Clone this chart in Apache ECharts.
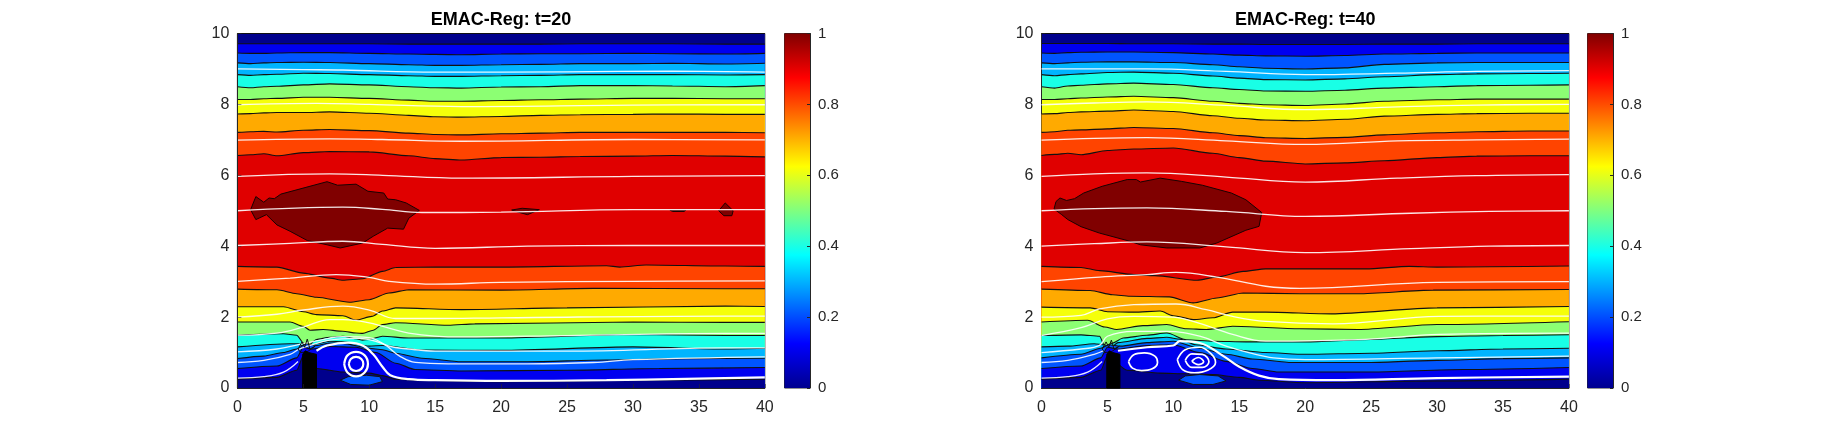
<!DOCTYPE html>
<html><head><meta charset="utf-8">
<style>html,body{margin:0;padding:0;background:#fff}#c{width:1825px;height:436px}</style>
<script src="https://cdn.jsdelivr.net/npm/echarts@6/dist/echarts.min.js"></script>
</head><body><div id="c"></div>
<script>
// Band colours, low value to high value
const bandColors=['#00008c','#0000f0','#0055ff','#00b4ff','#19ffe6','#8cff73','#f5ff0a','#ffaa00','#ff4400','#e00000','#800000'];
const titles=['EMAC-Reg: t=20','EMAC-Reg: t=40'];
const xTop=[0,1,2,3,5,7,10,13,15,17,20,23,26,30,33,37,40];

// t=20 upper contours (levels .1 ... .9)
const a20T1=[9.71,9.71,9.71,9.71,9.71,9.71,9.71,9.70,9.70,9.70,9.70,9.70,9.71,9.71,9.71,9.70,9.70];
const a20T2=[9.45,9.44,9.44,9.45,9.46,9.46,9.44,9.42,9.41,9.40,9.42,9.43,9.43,9.44,9.43,9.42,9.44];
const a20T3=[9.17,9.15,9.17,9.18,9.19,9.18,9.15,9.12,9.10,9.10,9.12,9.13,9.15,9.15,9.16,9.14,9.16];
const a20T4=[8.84,8.82,8.84,8.85,8.88,8.87,8.84,8.81,8.79,8.79,8.81,8.82,8.84,8.84,8.84,8.83,8.84];
const a20T5=[8.50,8.47,8.50,8.51,8.55,8.58,8.55,8.50,8.47,8.46,8.49,8.50,8.53,8.53,8.52,8.50,8.53];
const a20T6=[8.14,8.14,8.16,8.17,8.20,8.20,8.17,8.12,8.09,8.09,8.11,8.13,8.15,8.17,8.17,8.16,8.16];
const a20T7=[7.73,7.74,7.76,7.77,7.77,7.79,7.75,7.69,7.65,7.64,7.66,7.69,7.71,7.72,7.73,7.72,7.72];
const a20T8=[7.21,7.23,7.24,7.22,7.27,7.29,7.26,7.19,7.15,7.14,7.17,7.19,7.21,7.21,7.21,7.21,7.20];
const a20T9=[6.56,6.58,6.61,6.55,6.64,6.67,6.66,6.55,6.47,6.43,6.50,6.51,6.53,6.54,6.56,6.54,6.52];
// t=20 lower contours (levels .9 ... .1)
const a20B9=[[0,3.43],[3,3.41],[5,3.24],[7,3.10],[8,3.04],[9.5,3.08],[11,3.29],[12,3.40],[15,3.41],[20,3.41],[28,3.45],[29,3.41],[31,3.47],[37,3.44],[40,3.43]];
const a20B8=[[0,2.79],[3,2.77],[4.5,2.66],[6,2.56],[8.5,2.42],[10,2.49],[11.5,2.68],[13,2.77],[20,2.76],[27,2.81],[37,2.80],[40,2.80]];
const a20B7=[[0,2.29],[3.5,2.29],[5,2.15],[6,2.07],[8,2.04],[9,1.91],[10.2,2.02],[11,2.17],[12,2.26],[17,2.21],[25,2.26],[37,2.31],[40,2.30]];
const a20B6=[[0,1.86],[4,1.86],[5,1.74],[5.5,1.63],[6.5,1.65],[8,1.60],[9,1.55],[9.5,1.54],[10.3,1.63],[11,1.79],[12,1.84],[16,1.77],[18,1.81],[30,1.86],[37,1.85],[40,1.85]];
const a20B5=[[0,1.49],[3.5,1.53],[4.5,1.49],[5,1.27],[5.3,1.18],[6,1.37],[7,1.43],[8,1.46],[9,1.39],[9.5,1.35],[10,1.37],[11,1.46],[13,1.41],[20,1.41],[30,1.51],[37,1.48],[40,1.48]];
const a20B4=[[0,1.16],[4,1.25],[4.7,1.25],[5,1.16],[5.3,1.08],[6,1.25],[7,1.32],[8,1.30],[10,1.18],[11,1.20],[14,1.07],[20,1.06],[30,1.16],[37,1.10],[40,1.12]];
const a20B3=[[0,.83],[2,.9],[3.5,1.0],[4.5,1.1],[5.2,1.25],[6,1.2],[7,1.27],[8,1.26],[10,1.12],[11,1.08],[12,.98],[14,.84],[17,.74],[22,.74],[28,.79],[34,.83],[40,.84]];
const a20B2=[[0,.55],[3,.62],[4.5,.85],[5,1.15],[5.6,1.1],[7,1.17],[9,1.15],[10.5,1.0],[12,.7],[13.5,.52],[17,.48],[25,.5],[32,.55],[40,.58]];
const a20B1=[[0,.25],[3,.3],[4.5,.5],[5,.9],[6,.55],[8,.45],[10,.42],[11,.35],[12,.25],[14,.22],[20,.18],[30,.22],[40,.25]];
// t=20 closed contours
const a20Blob=[[1,5.03],[1.4,5.4],[2,5.24],[2.4,5.36],[2.8,5.34],[3.3,5.47],[5.2,5.66],[6.8,5.82],[7.6,5.72],[9,5.75],[9.9,5.55],[11.1,5.5],[11.4,5.33],[12,5.31],[12.8,5.22],[13.8,5.01],[13,4.79],[12.6,4.48],[11.4,4.51],[10.3,4.28],[9.5,4.09],[7.8,3.95],[6.8,4.04],[5.3,4.16],[4,4.42],[3,4.6],[2.2,4.89],[1.4,4.75]];
const a20Blob2=[[20.8,5.02],[21.6,5.07],[22.9,5.03],[22,4.89],[21.3,4.96]];
const a20Blob3=[[32.8,5.02],[34,5.02],[33.9,4.98],[33,4.98]];
const a20Blob4=[[36.5,5.0],[37,5.22],[37.6,5.0],[37.5,4.86],[36.9,4.86]];
const a20Patch=[[7.8,.22],[8.6,.1],[10,.08],[11,.18],[10.8,.32],[9.8,.36],[8.4,.32]];
const a20Core=[[8.4,.68],[8.7,.88],[9.2,.92],[9.6,.72],[9.4,.48],[8.8,.46]];
const a20Solid=[[4.95,0],[4.95,.95],[5.15,1.05],[5.4,1.0],[6,.95],[6,0]];
const a20Tip=[[4.6,1.1],[4.9,1.3],[5.1,1.15],[5.3,1.38],[5.5,1.1],[5.9,1.18],[5.3,1.02],[4.8,1.0],[4.6,1.1]];
// t=20 streamlines
const a20S9=[[0,9.0],[5,8.98],[8,8.97],[15,8.91],[25,8.92],[33,8.94],[40,8.91]];
const a20S8=[[0,7.99],[6,8.03],[10,8.0],[17,7.94],[30,7.98],[40,7.99]];
const a20S7=[[0,6.99],[7,7.03],[11,7.01],[17,6.96],[30,7.01],[40,7.0]];
const a20S6=[[0,5.97],[7,6.04],[11,6.0],[17,5.92],[30,5.97],[40,5.99]];
const a20S5=[[0,5.0],[8,5.10],[11,5.04],[14,4.95],[20,4.96],[30,5.03],[40,5.03]];
const a20S4=[[0,4.02],[4,4.08],[8,4.14],[11,4.05],[15,3.94],[22,4.0],[30,4.02],[40,4.02]];
const a20S3=[[0,3.01],[4,3.1],[7.5,3.2],[10,3.12],[11.5,3.01],[15,2.93],[20,2.98],[30,3.01],[40,3.02]];
const a20S2=[[0,2.0],[3,2.08],[5,2.2],[8,2.31],[10,2.2],[12,1.96],[15,1.96],[20,1.98],[37,2.03],[40,2.03]];
const a20S15=[[0,1.49],[3,1.55],[5,1.72],[7,1.93],[8,1.93],[10,1.84],[13,1.55],[17,1.44],[25,1.48],[37,1.54],[40,1.54]];
const a20S1=[[0,1.02],[3,1.10],[5,1.25],[7,1.41],[8,1.45],[10,1.42],[11.5,1.18],[13,1.10],[15,1.04],[25,1.04],[37,1.13],[40,1.13]];
const a20S05=[[0,.72],[2,.78],[4,.95],[4.7,1.1],[5.5,1.2],[7,1.35],[9,1.4],[11,1.25],[12.3,.9],[13.5,.72],[16,.68],[22,.68],[27,.72],[30,.8],[40,.88]];
const a20S0=[[0,.28],[2,.32],[3.5,.45],[4.6,.75]];
const a20Thick=[[6,1.05],[6.8,1.2],[8.4,1.28],[9.5,1.2],[10.3,.95],[11,.6],[11.6,.36],[13,.25],[15,.22],[20,.2],[28,.22],[34,.26],[40,.3]];
const a20Ring1=[[8.1,.68],[8.35,.92],[9,1.02],[9.65,.92],[9.9,.68],[9.65,.44],[9,.33],[8.35,.44],[8.1,.68]];
const a20Ring2=[[8.45,.68],[8.6,.82],[9,.88],[9.4,.82],[9.55,.68],[9.4,.54],[9,.48],[8.6,.54],[8.45,.68]];

// t=40 upper contours
const a40T1=[9.72,9.72,9.72,9.72,9.72,9.71,9.71,9.70,9.70,9.69,9.69,9.69,9.70,9.70,9.71,9.71,9.71];
const a40T2=[9.45,9.44,9.46,9.47,9.48,9.48,9.46,9.42,9.39,9.37,9.36,9.38,9.42,9.44,9.45,9.45,9.45];
const a40T3=[9.17,9.15,9.17,9.19,9.20,9.20,9.18,9.12,9.06,9.02,9.0,9.03,9.13,9.17,9.18,9.18,9.18];
const a40T4=[8.84,8.81,8.84,8.86,8.90,8.91,8.88,8.80,8.74,8.70,8.69,8.72,8.78,8.84,8.86,8.87,8.88];
const a40T5=[8.50,8.46,8.52,8.54,8.58,8.60,8.56,8.47,8.42,8.38,8.37,8.40,8.46,8.50,8.53,8.54,8.55];
const a40T6=[8.14,8.14,8.16,8.18,8.21,8.23,8.19,8.09,8.03,7.99,7.97,8.01,8.09,8.13,8.15,8.15,8.15];
const a40T7=[7.73,7.74,7.77,7.79,7.81,7.84,7.80,7.68,7.61,7.56,7.54,7.58,7.67,7.72,7.74,7.75,7.75];
const a40T8=[7.21,7.23,7.27,7.28,7.31,7.35,7.32,7.20,7.12,7.06,7.04,7.07,7.14,7.20,7.23,7.25,7.25];
const a40T9=[6.56,6.59,6.62,6.58,6.70,6.74,6.77,6.62,6.50,6.40,6.32,6.35,6.41,6.50,6.54,6.55,6.55];
// t=40 lower contours
const a40B9=[[0,3.43],[3,3.40],[4.4,3.31],[7,3.20],[8.6,3.17],[11.8,3.04],[13.3,3.13],[15.3,3.29],[17,3.36],[24.6,3.36],[27.9,3.43],[30,3.41],[34,3.42],[40,3.44]];
const a40B8=[[0,2.79],[3.7,2.75],[5.4,2.63],[6.7,2.59],[9.7,2.57],[11.5,2.40],[13.3,2.54],[15.3,2.68],[19.6,2.66],[24,2.66],[29.7,2.76],[40,2.78]];
const a40B7=[[0,2.28],[3.7,2.26],[5,2.15],[7,2.14],[9,2.17],[10,2.04],[11.5,1.93],[13,1.98],[14.5,2.14],[17,2.14],[22,2.09],[30,2.26],[40,2.30]];
const a40B6=[[0,1.86],[3.5,1.91],[4.8,1.72],[5.7,1.65],[7.7,1.76],[9.5,1.79],[11,1.67],[12.5,1.65],[14.5,1.74],[19.6,1.67],[24,1.65],[30,1.79],[40,1.87]];
const a40B5=[[0,1.48],[3,1.5],[4.4,1.46],[4.8,1.18],[5.4,1.27],[6.2,1.41],[8,1.49],[9.5,1.55],[11,1.36],[13,1.32],[15.5,1.30],[20,1.3],[25,1.37],[30,1.45],[35,1.48],[40,1.5]];
const a40B4=[[0,1.16],[2,1.18],[4,1.25],[4.8,1.22],[5.2,1.12],[5.8,1.28],[8,1.4],[9.5,1.43],[10.5,1.38],[11.7,1.22],[14,1.1],[17,1.0],[20,.95],[25,.98],[30,1.05],[35,1.1],[40,1.12]];
const a40B3=[[0,.85],[3,.95],[4.5,1.12],[5.1,1.22],[6,1.18],[8,1.28],[10,1.32],[12,1.12],[14,.95],[16,.82],[19,.72],[25,.72],[30,.78],[35,.83],[40,.85]];
const a40B2=[[0,.55],[3,.62],[4.5,.85],[5,1.15],[5.8,1.1],[8,1.2],[10,1.22],[12,1.0],[14,.75],[16,.55],[18,.45],[25,.45],[32,.52],[40,.58]];
const a40B1=[[0,.25],[3,.3],[4.5,.5],[5,.9],[6.5,.5],[9,.42],[11,.4],[13,.38],[15,.3],[16.5,.22],[20,.15],[30,.2],[40,.25]];
// t=40 closed contours
const a40Blob=[[.95,5.05],[1.1,5.26],[1.4,5.36],[1.9,5.29],[2.5,5.34],[3.2,5.5],[4.6,5.69],[6.5,5.88],[7.2,5.88],[7.5,5.81],[9,5.92],[10.6,5.83],[12.2,5.72],[14.4,5.5],[15.5,5.31],[16.7,4.95],[16.5,4.56],[15.5,4.45],[13.3,4.09],[12,3.95],[9.5,3.95],[7.5,4.04],[6.7,4.14],[4.4,4.37],[3,4.55],[2,4.75],[1.5,4.9]];
const a40Patch=[[10.4,.22],[11.5,.1],[13,.1],[14,.2],[13.4,.34],[12,.38],[10.9,.34]];
const a40Core=[[11.2,.72],[11.8,.98],[12.8,.86],[13,.62],[12.2,.5],[11.4,.54]];
const a40Solid=[[4.95,0],[4.95,.95],[5.15,1.05],[5.4,1.0],[5.95,.95],[5.95,0]];
const a40Tip=[[4.6,1.1],[4.9,1.3],[5.1,1.15],[5.3,1.35],[5.5,1.1],[5.9,1.18],[5.3,1.02],[4.8,1.0],[4.6,1.1]];
// t=40 streamlines
const a40S9=[[0,9.0],[4,9.0],[8,9.0],[14,8.93],[20,8.84],[27,8.88],[33,8.93],[40,8.95]];
const a40S8=[[0,7.99],[4,8.04],[8,8.07],[14,7.97],[20,7.85],[27,7.93],[33,7.98],[40,8.0]];
const a40S7=[[0,6.99],[4,7.04],[8,7.06],[14,6.97],[20,6.87],[27,6.97],[33,7.0],[40,7.02]];
const a40S6=[[0,5.97],[4,6.04],[8,6.07],[14,5.95],[20,5.81],[27,5.92],[33,5.99],[40,6.02]];
const a40S5=[[0,5.0],[4,5.06],[8,5.08],[14,4.98],[20,4.84],[28,4.93],[34,4.98],[40,5.0]];
const a40S4=[[0,4.0],[4,4.07],[8,4.12],[14,3.98],[20,3.82],[28,3.93],[34,4.0],[40,4.02]];
const a40S3=[[0,3.0],[4.4,3.13],[8,3.2],[10.2,3.26],[13.3,3.13],[17,2.87],[19.6,2.81],[30,2.98],[40,3.0]];
const a40S2=[[0,2.0],[3,2.05],[4.4,2.23],[7,2.35],[10.2,2.37],[12.5,2.21],[14.5,2.02],[17,1.88],[22.1,1.81],[30.2,2.02],[40,2.03]];
const a40S15=[[0,1.48],[3,1.7],[5,1.95],[7,2.02],[10,2.0],[12,1.82],[14.5,1.51],[17,1.32],[24.6,1.37],[30.2,1.51],[40,1.55]];
const a40S1=[[0,1.0],[3,1.1],[4.4,1.2],[5,1.46],[7,1.6],[9.5,1.6],[12,1.46],[14,1.18],[15.8,.99],[17.6,.85],[20,.8],[30,.85],[40,.9]];
const a40S05=[[0,.72],[2,.78],[4,.95],[4.7,1.05]];
const a40S0=[[0,.28],[2,.32],[3.5,.45],[4.6,.75]];
const a40Thick=[[5.8,1.05],[8,1.15],[10,1.2],[10.5,1.32],[12,1.27],[13.8,.9],[15,.6],[16.5,.35],[18,.25],[22,.22],[30,.28],[40,.32]];
const a40Ring1=[[6.6,.74],[7,.94],[7.8,.99],[8.6,.9],[8.8,.72],[8.4,.54],[7.6,.49],[6.9,.56],[6.6,.74]];
const a40Ring2=[[10.3,.8],[10.9,1.08],[12,1.15],[12.9,.95],[13.2,.72],[12.6,.5],[11.6,.43],[10.7,.52],[10.3,.8]];
const a40Ring3=[[10.9,.78],[11.4,.96],[12.2,.95],[12.7,.74],[12.2,.58],[11.4,.58],[10.9,.78]];
const a40Ring4=[[11.4,.76],[11.9,.86],[12.3,.74],[11.9,.66],[11.4,.76]];

const jetStops=[[0,'#00008f'],[.125,'#0000ff'],[.375,'#00ffff'],[.625,'#ffff00'],[.875,'#ff0000'],[1,'#800000']];
const barValue=[1];

const panels=[
 {top:[a20T1,a20T2,a20T3,a20T4,a20T5,a20T6,a20T7,a20T8,a20T9],
  bot:[a20B9,a20B8,a20B7,a20B6,a20B5,a20B4,a20B3,a20B2,a20B1],
  blobs:[a20Blob,a20Blob2,a20Blob3,a20Blob4],patch:a20Patch,core:a20Core,solid:a20Solid,tip:a20Tip,
  thin:[a20S9,a20S8,a20S7,a20S6,a20S5,a20S4,a20S3,a20S2,a20S15,a20S1,a20S05,a20S0],
  rings:[],thick:[a20Thick,a20Ring1,a20Ring2]},
 {top:[a40T1,a40T2,a40T3,a40T4,a40T5,a40T6,a40T7,a40T8,a40T9],
  bot:[a40B9,a40B8,a40B7,a40B6,a40B5,a40B4,a40B3,a40B2,a40B1],
  blobs:[a40Blob],patch:a40Patch,core:a40Core,solid:a40Solid,tip:a40Tip,
  thin:[a40S9,a40S8,a40S7,a40S6,a40S5,a40S4,a40S3,a40S2,a40S15,a40S1,a40S05,a40S0],
  rings:[a40Ring1,a40Ring2,a40Ring3,a40Ring4],thick:[a40Thick]}
];

const plotTop=33.5, plotH=354.5, plotW=527.4, plotLeft=[237.4,1041.5], barLeft=[784.5,1587.5], barW=25.5;
const grids=[],xAxes=[],yAxes=[],series=[],titleOpts=[];
const txt='#262626', font='"Liberation Sans",Arial,sans-serif';
let zc=2;
function areaLine(g,data,fill){
  series.push({type:'line',xAxisIndex:g,yAxisIndex:g,data,showSymbol:false,symbol:'none',silent:true,animation:false,
    smooth:0.25,smoothMonotone:'x',z:zc++,lineStyle:{color:'#111',width:1.1},areaStyle:{color:fill,opacity:1,origin:'start'}});
}
function plainLine(g,data,color,width,smooth){
  series.push({type:'line',xAxisIndex:g,yAxisIndex:g,data,showSymbol:false,symbol:'none',silent:true,animation:false,
    smooth,z:zc++,lineStyle:{color,width}});
}
function poly(g,pts,fill,stroke){
  series.push({type:'custom',xAxisIndex:g,yAxisIndex:g,coordinateSystem:'cartesian2d',data:pts,silent:true,animation:false,z:zc++,
    encode:{x:0,y:1},
    renderItem:(p,api)=>p.dataIndex===0?{type:'polygon',shape:{points:pts.map(q=>api.coord(q))},style:{fill,stroke,lineWidth:1}}:null});
}
panels.forEach((P,i)=>{
  const g=i*2, b=g+1;
  grids.push({left:plotLeft[i],top:plotTop,width:plotW,height:plotH,show:true,borderColor:'#262626',borderWidth:1,backgroundColor:'transparent'});
  xAxes.push({gridIndex:g,type:'value',min:0,max:40,interval:5,z:50,axisLine:{show:true,onZero:false,lineStyle:{color:txt,width:1}},
    axisTick:{show:true,inside:true,length:4,lineStyle:{color:'rgba(38,38,38,.55)'}},splitLine:{show:false},
    axisLabel:{color:txt,fontFamily:font,fontSize:16,margin:12}});
  yAxes.push({gridIndex:g,type:'value',min:0,max:10,interval:2,z:50,axisLine:{show:true,onZero:false,lineStyle:{color:txt,width:1}},
    axisTick:{show:true,inside:true,length:4,lineStyle:{color:'rgba(38,38,38,.55)'}},splitLine:{show:false},
    axisLabel:{color:txt,fontFamily:font,fontSize:16,margin:8,padding:[4,0,0,0]}});
  // colour bar
  grids.push({left:barLeft[i],top:plotTop,width:barW,height:plotH,show:true,borderColor:'#262626',borderWidth:1,backgroundColor:'transparent'});
  xAxes.push({gridIndex:b,type:'category',data:[''],show:false});
  yAxes.push({gridIndex:b,type:'value',position:'right',min:0,max:1,interval:.2,z:50,axisLine:{show:true,lineStyle:{color:txt,width:1}},
    axisTick:{show:true,inside:true,length:3,lineStyle:{color:txt}},splitLine:{show:false},
    axisLabel:{color:txt,fontFamily:font,fontSize:15,margin:8,padding:[4,0,0,0],formatter:v=>String(+v.toFixed(1))}});
  series.push({type:'bar',xAxisIndex:b,yAxisIndex:b,data:barValue,barWidth:'100%',silent:true,animation:false,
    itemStyle:{color:{type:'linear',x:0,y:1,x2:0,y2:0,colorStops:jetStops.map(s=>({offset:s[0],color:s[1]}))}}});
  // base fill, then every contour painted from the top down
  areaLine(g,[[0,10],[40,10]],bandColors[0]);
  P.top.forEach((ys,k)=>areaLine(g,xTop.map((x,j)=>[x,ys[j]]),bandColors[k+1]));
  P.bot.forEach((pts,k)=>areaLine(g,pts,bandColors[8-k]));
  P.blobs.forEach(pts=>poly(g,pts,bandColors[10],'#1a0000'));
  poly(g,P.patch,bandColors[2],'#111');
  poly(g,P.core,bandColors[1],'none');
  P.thin.forEach(pts=>plainLine(g,pts,'rgba(255,255,255,.9)',1.3,0.4));
  P.rings.forEach(pts=>plainLine(g,pts,'#ffffff',1.7,0.4));
  P.thick.forEach(pts=>plainLine(g,pts,'#ffffff',2.2,0.4));
  plainLine(g,P.tip,'#111',1,false);
  poly(g,P.solid,'#000','#000');
  titleOpts.push({text:titles[i],left:plotLeft[i]+plotW/2-5,top:6,textAlign:'center',textStyle:{color:'#000',fontFamily:font,fontSize:18,fontWeight:'bold'}});
});
const chart=echarts.init(document.getElementById('c'),null,{renderer:'canvas',width:1825,height:436});
chart.setOption({animation:false,backgroundColor:'#fff',title:titleOpts,grid:grids,xAxis:xAxes,yAxis:yAxes,series});
</script>
</body></html>
